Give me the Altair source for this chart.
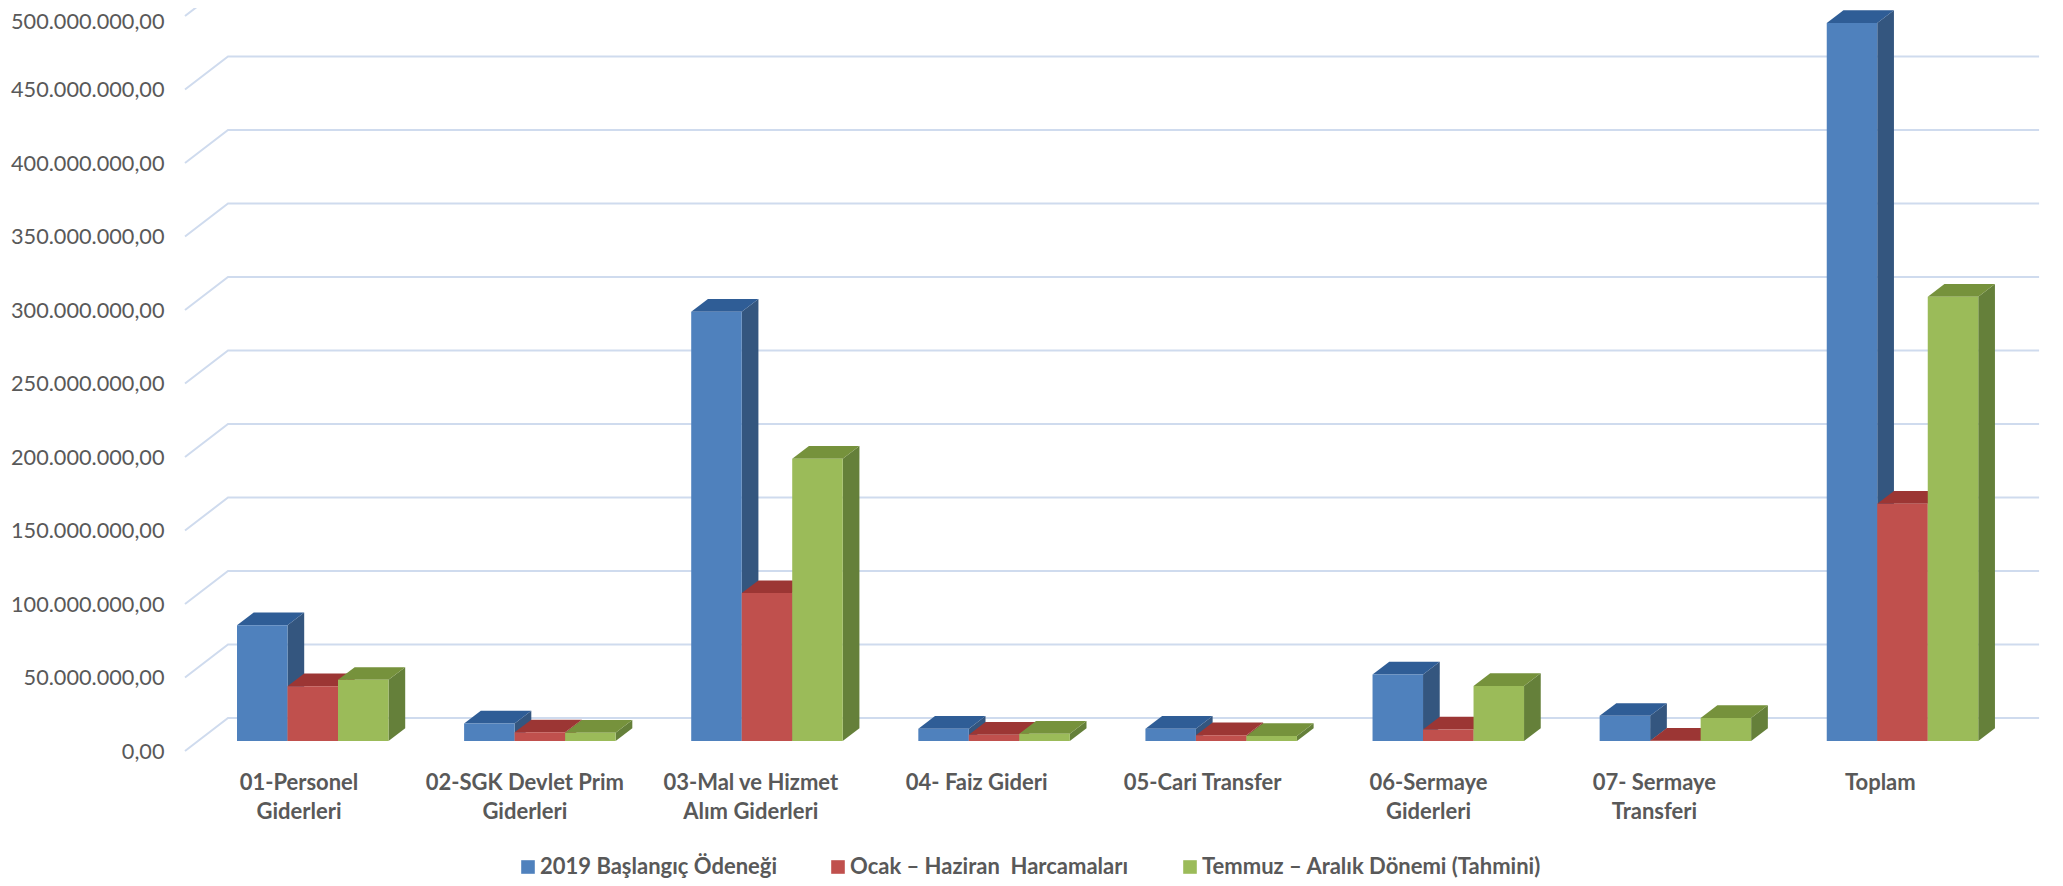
import altair as alt
import pandas as pd

categories = ["01-Personel\nGiderleri", "02-SGK Devlet Prim\nGiderleri", "03-Mal ve Hizmet\nAlım Giderleri",
              "04- Faiz Gideri", "05-Cari Transfer", "06-Sermaye\nGiderleri", "07- Sermaye\nTransferi", "Toplam"]
series = ["2019 Başlangıç Ödeneği", "Ocak – Haziran \u00a0Harcamaları", "Temmuz – Aralık Dönemi (Tahmini)"]
blue = [78.8, 11.9, 292.0, 8.4, 8.4, 45.2, 17.1, 488.5]
red = [37.2, 5.9, 100.6, 4.3, 3.9, 7.9, 0.2, 161.4]
green = [41.6, 5.6, 192.0, 5.0, 3.4, 37.4, 15.7, 302.2]
ticks = [0, 50, 100, 150, 200, 250, 300, 350, 400, 450, 500]

front_colors = ["#4F81BD", "#C0504D", "#9BBB59"]
side_colors = ["#34567F", "#953735", "#65803A"]
top_colors = ["#2F5D96", "#9C3634", "#76923C"]
GRID = "#CFDBEE"
TEXT = "#595959"
FONT = "Lato"

# scale geometry (millions per pixel, category units per pixel)
M_PX = 50 / 73.5
U_PX = 1 / 227.1
BAR_W = 50.5 * U_PX
DX, DY = 16.7 * U_PX, 12.7 * M_PX
BASE = 10 * M_PX
WALL_X0, WALL_X1, WALL_X2 = -0.229, -0.0396, 7.935
WALL_DY = 33 * M_PX

xs = alt.Scale(domain=[-0.273, 7.961], nice=False, zero=False)
ys = alt.Scale(domain=[-127 * M_PX, 743 * M_PX], nice=False, zero=False)
y_axis = alt.Axis(
    values=ticks, domain=False, ticks=False, grid=False, labelPadding=11, title=None,
    labelFont=FONT, labelFontSize=21.7, labelColor=TEXT, labelOverlap=False,
    labelOffset={"condition": {"test": "datum.value == 500", "value": 5}, "value": 0},
    labelExpr="replace(replace(replace(format(datum.value*1000000,',.2f'),/,/g,'_'),'.',','),/_/g,'.')")
X = lambda f: alt.X(f, type="quantitative", scale=xs, axis=None, title=None)
Y = lambda f: alt.Y(f, type="quantitative", scale=ys, axis=y_axis, title=None, stack=None)

layers = []

# walls: gridlines with floor diagonal
grid_rows = []
for t in ticks:
    grid_rows += [dict(t=t, x=WALL_X0, y=t), dict(t=t, x=WALL_X1, y=t + WALL_DY), dict(t=t, x=WALL_X2, y=t + WALL_DY)]
grid = alt.Chart(pd.DataFrame(grid_rows)).mark_line(color=GRID, strokeWidth=2, clip=True).encode(
    x=X("x"), y=Y("y"), detail="t:N", order="x:Q")
layers.append(grid)

for s, vals in enumerate([blue, red, green]):
    side_rows, top_rows, front_rows = [], [], []
    for i, v in enumerate(vals):
        left = i + s * BAR_W
        right = left + BAR_W
        front_rows.append(dict(x=left, x2=right, y=v + BASE, y2=BASE, serie=series[s]))
        side_rows += [dict(g=i, x=right, y=v + BASE, y2=BASE),
                      dict(g=i, x=right + DX, y=v + BASE + DY, y2=BASE + DY)]
        top_rows += [dict(g=i, y=v + BASE, x=left, x2=right),
                     dict(g=i, y=v + BASE + DY, x=left + DX, x2=right + DX)]
    layers.append(alt.Chart(pd.DataFrame(side_rows)).mark_area(color=side_colors[s]).encode(
        x=X("x"), y=Y("y"), y2="y2:Q", detail="g:N"))
    layers.append(alt.Chart(pd.DataFrame(top_rows)).mark_area(color=top_colors[s], orient="horizontal").encode(
        y=Y("y"), x=alt.X("x:Q", scale=xs, axis=None, title=None, stack=None), x2="x2:Q", detail="g:N"))
    layers.append(alt.Chart(pd.DataFrame(front_rows)).mark_rect().encode(
        x=X("x"), x2="x2:Q", y=Y("y"), y2="y2:Q",
        color=alt.Color("serie:N", scale=alt.Scale(domain=series, range=front_colors), legend=alt.Legend(
            orient="none", legendX=342, legendY=848, direction="horizontal", title=None,
            symbolType="square", symbolSize=185, symbolStrokeWidth=0, symbolOpacity=1,
            labelFont=FONT, labelFontSize=22, labelFontWeight="bold", labelColor=TEXT, labelLimit=500,
            columnPadding=50, labelOffset=1, columns=3))))

labels = pd.DataFrame({"label": categories, "x": [i * 0.9947 + 0.273 for i in range(len(categories))]})
text = alt.Chart(labels).mark_text(font=FONT, fontSize=22, fontWeight="bold", color=TEXT, lineBreak="\n",
                                   lineHeight=29, align="center", baseline="top").encode(
    x=X("x"), y=alt.value(765), text="label:N")
layers.append(text)

chart = alt.layer(*layers).properties(
    width=1870, height=870, autosize=alt.AutoSizeParams(type="none"),
    padding={"left": 167, "top": 0, "right": 10, "bottom": 0}
).configure_view(stroke=None)

chart.save("out.html", embed_options={"renderer": "svg", "actions": False})
